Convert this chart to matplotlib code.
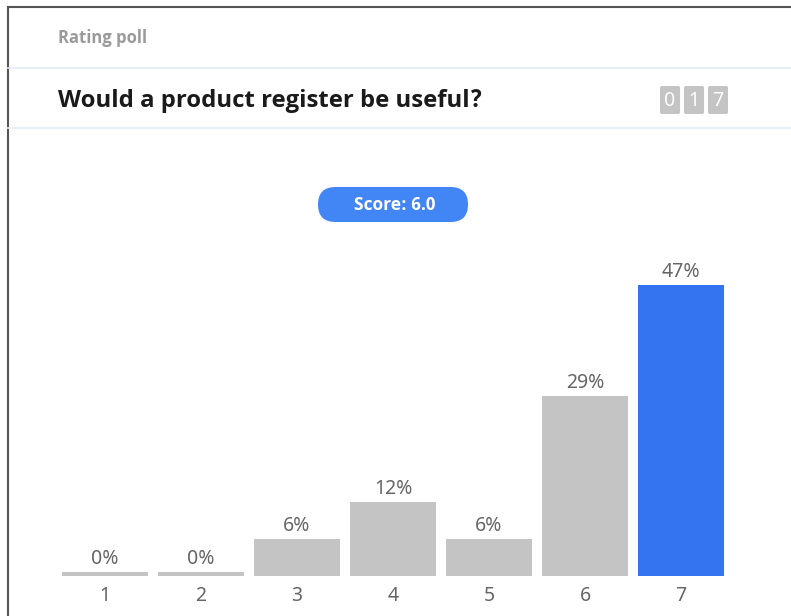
import matplotlib.pyplot as plt
from matplotlib.patches import FancyBboxPatch
import numpy as np

plt.rcParams['font.family'] = ['Noto Sans', 'DejaVu Sans']
BOLD = ['Noto Sans Devanagari UI', 'Open Sans', 'DejaVu Sans']

ratings = ['1', '2', '3', '4', '5', '6', '7']
shares = [0, 0, 6, 12, 6, 29, 47]
votes = '017'
score = 6.0
poll_kind = 'Rating poll'
question = 'Would a product register be useful?'

W, H = 791, 616
GREY_BAR = '#c4c4c4'
BLUE = '#3574f0'
PILL = '#4285f4'
TEXT_GREY = '#666666'
LINE = '#e4ecf7'

fig = plt.figure(figsize=(W / 100, H / 100), dpi=100)

# full-figure canvas in pixel units for the card frame and header
bg = fig.add_axes([0, 0, 1, 1])
bg.set_xlim(0, W)
bg.set_ylim(H, 0)
bg.axis('off')

bg.plot([8, 8], [7, H], color='#555555', lw=1.5)
bg.plot([8, W], [7, 7], color='#555555', lw=1.5)
bg.plot([8, W], [68, 68], color=LINE, lw=1.2)
bg.plot([8, W], [128, 128], color=LINE, lw=1.2)

bg.text(58, 38, poll_kind, fontsize=12, fontweight='bold', family=BOLD, color='#9a9a9a',
        va='center', ha='left')
bg.text(58, 101, question, fontsize=17.2, fontweight='bold', family=BOLD, color='#1a1a1a',
        va='center', ha='left')

# vote counter digits
for i, d in enumerate(votes):
    x0 = 660 + i * 24
    bg.add_patch(FancyBboxPatch((x0, 86), 20, 28, boxstyle='round,pad=0,rounding_size=2',
                                fc='#c4c4c4', ec='none'))
    bg.text(x0 + 10, 101, d, fontsize=14, color='white', ha='center', va='center')

# score pill
bg.add_patch(FancyBboxPatch((318, 187), 150, 35, boxstyle='round,pad=0,rounding_size=17.5',
                            fc=PILL, ec='none'))
bg.text(395, 205.5, 'Score: %.1f' % score, fontsize=12.5, fontweight='bold', family=BOLD,
        color='white', ha='center', va='center')

# bar chart
ymax = 50
px_per_pct = 6.19
base = 576
ax_h = ymax * px_per_pct
ax = fig.add_axes([57 / W, 1 - base / H, (729 - 57) / W, ax_h / H])
ax.patch.set_alpha(0)
x = np.arange(len(ratings))
colors = [GREY_BAR] * (len(ratings) - 1) + [BLUE]
heights = np.maximum(shares, 0.6)
ax.bar(x, heights, width=0.9, color=colors, edgecolor='none')
for xi, v in zip(x, shares):
    ax.text(xi, max(v, 0.6) + 0.5, '%d%%' % v, fontsize=14, color=TEXT_GREY,
            ha='center', va='bottom')

ax.set_xlim(-0.5, len(ratings) - 0.5)
ax.set_ylim(0, ymax)
ax.set_xticks(x)
ax.set_xticklabels(ratings, fontsize=14, color=TEXT_GREY)
ax.tick_params(axis='x', length=0, pad=7)
ax.set_yticks([])
for s in ax.spines.values():
    s.set_visible(False)

fig.savefig('out.png', dpi=100)
